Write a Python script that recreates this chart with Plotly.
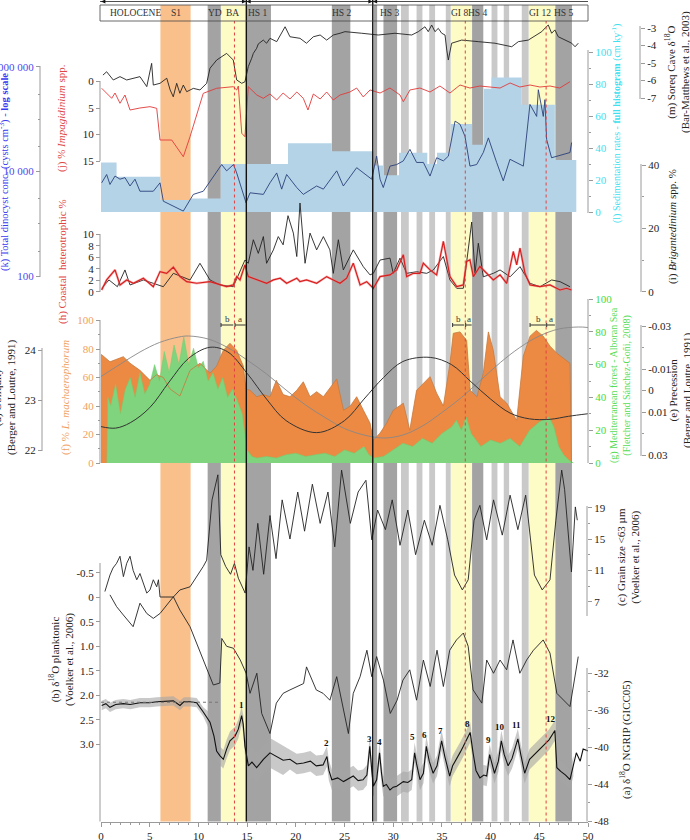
import plotly.graph_objects as go

# ---------------- DATA (ages in ka BP) ----------------
s1_band = (6.1, 9.2)
dark_bands = [(10.95, 12.3), (14.95, 17.45), (23.7, 25.6), (28.0, 28.35), (29.0, 30.4), (38.1, 39.25), (46.65, 48.35)]
light_bands = [(30.8, 31.6), (32.4, 33.0), (33.7, 34.3), (35.4, 35.9), (40.1, 40.7), (41.35, 41.9), (43.2, 43.9)]
yellow_bands = [(12.3, 14.9), (35.9, 38.1), (43.9, 46.6)]
red_dotted = [13.7, 37.4, 45.7]
black_lines = [14.92, 27.9]
header_names = ["HOLOCENE", "S1", "YD", "BA", "HS 1", "HS 2", "HS 3", "GI 8", "HS 4", "GI 12", "HS 5"]
header_pos = [3.5, 7.7, 11.7, 13.55, 16.1, 24.7, 29.7, 36.85, 38.75, 45.1, 47.5]
mis_names = ["MIS 1", "MIS 2", "MIS 3"]
mis_pos = [7.5, 21.5, 38.7]

# (m) Soreq Cave d18O
soreq_age = [0.2, 0.58, 1.26, 1.95, 2.64, 3.3, 4.0, 4.7, 5.03, 5.2, 5.37, 6.06, 6.75, 7.1, 7.42, 7.77, 8.1, 8.45, 8.8, 9.48,
             10.16, 10.85, 11.19, 11.88, 12.9, 13.58, 13.93, 14.45, 14.78, 15.12, 15.47, 15.64, 15.98, 16.15, 16.66, 17.0,
             17.35, 18.04, 18.9, 19.4, 20.43, 21.1, 21.8, 22.5, 23.17, 23.85, 24.54, 25.05, 26.77, 28.47, 30.18, 31.9,
             32.58, 33.26, 33.6, 33.95, 34.29, 34.63, 34.98, 35.32, 35.5, 35.66, 36.0, 37.03, 38.74, 40.45, 42.17, 42.85,
             43.87, 45.25, 45.6, 45.92, 46.27, 46.6, 46.95, 47.64, 48.33, 48.67, 49.0]
soreq_val = [-5.69, -5.5, -5.97, -5.78, -5.97, -5.87, -5.78, -6.35, -5.4, -5.02, -6.26, -6.16, -5.87, -6.54, -6.93, -6.16,
             -6.73, -6.26, -6.64, -6.45, -6.54, -6.16, -5.3, -4.83, -4.45, -4.83, -5.97, -6.16, -6.07, -5.21, -4.73, -4.45,
             -4.16, -3.91, -3.69, -3.87, -3.59, -3.78, -2.93, -3.5, -3.59, -3.87, -3.5, -3.4, -3.69, -3.4, -3.3, -3.21,
             -3.3, -3.4, -3.3, -3.4, -3.21, -2.93, -3.21, -2.83, -3.21, -3.02, -3.3, -3.4, -4.26, -4.83, -3.87, -3.69,
             -3.78, -3.87, -4.07, -3.78, -3.69, -3.21, -3.0, -2.83, -3.3, -3.11, -3.5, -3.69, -3.87, -4.07, -3.87]

# (j) % Impagidinium spp.
impa_age = [0.07, 1.1, 1.44, 1.95, 2.46, 2.98, 4.0, 5.03, 5.72, 6.06, 7.26, 8.45, 9.14, 10.5, 11.88, 12.9, 13.58, 13.93,
            14.1, 14.45, 14.78, 15.12, 16.0, 16.66, 17.35, 18.04, 18.7, 19.4, 20.1, 20.77, 21.25, 21.8, 22.5, 23.17,
            23.85, 24.54, 25.56, 26.25, 26.93, 27.62, 28.65, 29.67, 30.7, 31.04, 31.72, 32.75, 33.78, 34.8, 35.83,
            36.86, 37.88, 38.9, 39.94, 40.97, 42.0, 43.0, 44.05, 45.07, 46.1, 47.1, 48.15]
impa_val = [1.28, 3.17, 2.17, 4.11, 2.55, 5.38, 5.0, 4.75, 5.06, 11.04, 11.04, 14.19, 10.42, 2.23, 1.28, 1.04, 0.98, 1.6,
            0.85, 9.77, 10.42, 0.98, 2.55, 3.17, 2.36, 3.49, 2.17, 3.3, 1.98, 3.17, 5.38, 2.36, 3.3, 1.98, 3.49, 2.55,
            1.98, 1.23, 2.92, 1.6, 2.17, 1.23, 2.55, 3.81, 1.6, 1.23, 1.98, 0.85, 2.17, 0.66, 1.23, 0.85, 1.04, 1.23,
            0.28, 1.04, 0.66, 1.04, 0.85, 1.23, 0.04]

# (l) sedimentation rates - full histogram
sed_edges = [0, 1.6, 6.1, 9.2, 12.3, 14.9, 19.2, 23.7, 28.0, 29.0, 30.6, 33.5, 34.5, 35.9, 38.1, 39.3, 40.1, 43.2, 46.6, 48.8]
sed_rate = [31, 22, 7.5, 8.5, 30, 30, 43, 38, 29, 23, 37, 30, 37, 55, 42, 77, 84, 67, 32.5]

# (k) total dinocyst concentration (cysts cm-3)
dino_age = [0.07, 0.58, 0.92, 1.44, 1.95, 2.46, 2.98, 3.49, 4.0, 5.37, 6.06, 6.4, 8.45, 9.48, 10.5, 11.53, 12.39, 12.9,
            13.6, 13.93, 14.89, 15.3, 16.67, 17.35, 18.04, 18.55, 19.06, 20.1, 20.77, 22.14, 22.83, 24.2, 24.88, 26.25,
            26.93, 27.79, 28.3, 28.65, 28.98, 29.67, 30.36, 31.04, 31.72, 32.4, 33.1, 33.78, 34.46, 35.15, 35.66, 36.35,
            36.86, 37.37, 37.88, 38.57, 39.25, 39.77, 40.62, 41.3, 41.99, 42.67, 43.36, 44.04, 44.73, 44.9, 45.41,
            45.58, 45.75, 46.26, 48.15, 48.32]
dino_val = [6030, 8710, 5620, 8130, 7080, 7590, 5250, 7080, 4170, 4170, 6030, 2690, 1740, 3630, 4170, 8130, 13490, 10230,
            13490, 9330, 2510, 3890, 3630, 6030, 9330, 4570, 8710, 4900, 3630, 5250, 4570, 10230, 5250, 11750, 9330,
            7080, 19500, 7080, 4900, 12590, 13490, 15850, 26300, 14800, 14800, 8130, 18200, 15850, 19500, 91200, 79400,
            46800, 12590, 13490, 22900, 43600, 14800, 6600, 17000, 14800, 12590, 190500, 112200, 363000, 112200,
            234400, 40700, 18200, 22900, 35500]

# (i) Brigantedinium spp. %
brig_age = [0.07, 0.82, 1.68, 2.46, 2.98, 4.35, 5.37, 6.4, 7.43, 9.14, 10.16, 11.19, 12.22, 13.58, 14.78, 15.12, 15.64,
            16.15, 16.67, 17.0, 17.7, 18.2, 18.7, 19.2, 19.75, 20.1, 20.43, 20.95, 21.46, 22.14, 22.83, 23.5, 23.85,
            24.37, 24.88, 25.9, 26.93, 27.62, 27.96, 28.65, 29.67, 30.0, 30.7, 31.38, 32.4, 33.44, 34.12, 35.15, 35.83,
            36.52, 37.2, 37.54, 38.06, 38.4, 38.74, 39.25, 40.28, 40.97, 42.0, 43.02, 44.05, 45.07, 46.27, 47.13, 48.15]
brig_val = [1.07, 3.7, 1.58, 6.87, 2.12, 3.7, 2.64, 1.58, 5.8, 3.7, 8.97, 3.7, 2.12, 1.58, 10.0, 8.97, 16.4, 12.1, 17.4,
            8.97, 13.2, 17.4, 14.8, 24.0, 18.5, 11.1, 28.0, 8.97, 18.5, 13.2, 17.4, 13.2, 5.8, 16.4, 6.87, 13.2, 7.9,
            5.3, 5.8, 10.0, 10.6, 5.8, 10.6, 5.8, 6.3, 5.8, 6.87, 11.1, 3.7, 1.07, 1.07, 8.97, 22.0, 5.8, 15.3, 4.7,
            5.8, 6.87, 4.7, 7.9, 2.64, 1.58, 3.7, 3.17, 1.58]

# (h) coastal heterotrophic %
coast_age = [0.07, 0.58, 1.44, 1.95, 2.64, 3.32, 4.35, 5.37, 6.06, 6.74, 7.43, 8.11, 8.8, 9.82, 11.19, 12.22, 12.9, 13.58,
             13.93, 14.27, 14.78, 15.12, 15.98, 17.0, 17.7, 18.4, 19.06, 20.1, 20.43, 21.1, 22.14, 23.17, 23.85, 24.54,
             25.22, 25.9, 26.6, 27.28, 27.96, 28.65, 29.67, 30.36, 31.04, 31.38, 32.07, 32.75, 33.09, 33.78, 34.46,
             35.15, 35.83, 36.52, 37.2, 37.54, 37.88, 38.23, 38.9, 39.6, 40.28, 40.97, 41.65, 42.33, 42.68, 43.02,
             43.53, 44.05, 45.07, 46.1, 47.13, 47.8, 48.3]
coast_val = [0.3, 2.05, 3.8, 1.18, 2.05, 1.47, 2.35, 0.88, 3.5, 3.2, 4.28, 2.63, 1.75, 1.47, 1.75, 1.18, 0.88, 1.18, 2.63,
             2.05, 4.68, 2.63, 2.05, 1.47, 2.05, 2.35, 1.47, 2.35, 1.75, 2.05, 1.47, 2.63, 2.05, 1.47, 2.35, 4.97, 1.18,
             1.75, 0.6, 2.63, 2.93, 3.8, 6.43, 2.63, 3.2, 3.2, 4.97, 3.8, 2.93, 8.77, 2.63, 0.88, 1.18, 5.26, 5.56, 2.63,
             4.39, 3.2, 2.05, 2.93, 1.47, 7.0, 4.68, 7.6, 3.2, 1.18, 0.88, 1.18, 0.3, 0.6, 0.3]

# (f) % L. machaerophorum
lmac_age = [0.0, 0.07, 0.92, 1.61, 2.29, 2.98, 4.0, 5.03, 5.71, 6.4, 7.08, 8.1, 9.14, 10.16, 11.19, 11.87, 12.56, 13.24,
            13.93, 14.61, 14.89, 15.3, 15.98, 16.67, 17.35, 18.0, 18.7, 19.4, 20.1, 20.77, 21.46, 22.14, 22.83, 24.2,
            24.9, 25.6, 26.25, 26.94, 27.62, 27.96, 28.65, 29.33, 30.0, 31.04, 31.7, 32.4, 33.1, 33.78, 34.46, 35.15,
            35.83, 36.17, 36.86, 37.54, 37.9, 38.6, 39.25, 39.77, 40.28, 40.97, 41.65, 42.68, 43.36, 44.05, 44.7, 45.4,
            46.1, 46.8, 48.15, 48.3]
lmac_val = [76, 76, 71, 73, 74.6, 70, 65, 58, 62, 60, 52, 47, 65, 70, 63, 68, 79, 84, 79, 68, 52, 51, 46.5, 48, 46.5, 58,
            48, 46.5, 51, 57, 46.5, 50, 46.5, 59, 37, 40, 46.5, 37, 28, 16, 21, 28, 37, 42, 23, 51, 56, 60.6, 49, 40, 70,
            91, 92, 86, 51, 46.5, 63, 92, 79, 46.5, 42, 30, 75, 89, 93, 89, 82, 77, 70, 0]

# (g) Mediterranean forest %
forest_age = [0.6, 0.7, 1.0, 1.5, 2.0, 2.5, 3.0, 3.5, 4.0, 4.5, 5.0, 5.5, 6.0, 6.5, 7.0, 7.5, 8.0, 8.5, 9.0, 9.5, 10.0,
              10.5, 11.0, 11.5, 12.0, 12.5, 13.0, 13.5, 14.0, 14.5, 15.0, 15.5, 16.0, 17.0, 18.0, 19.0, 20.0, 21.0,
              22.0, 23.0, 24.0, 25.0, 26.0, 27.0, 27.5, 28.0, 29.0, 30.0, 31.0, 32.0, 33.0, 34.0, 35.0, 36.0, 36.5,
              37.0, 37.5, 38.0, 39.0, 40.0, 41.0, 42.0, 43.0, 44.0, 45.0, 46.0, 46.5, 47.0, 47.5, 48.0, 48.5]
forest_val = [0, 40, 35, 48, 30, 45, 52, 40, 55, 42, 48, 60, 50, 68, 55, 72, 60, 77, 60, 70, 58, 62, 50, 55, 45, 52, 40,
              45, 38, 30, 8, 4, 3, 4, 3, 5, 6, 4, 5, 6, 4, 8, 6, 10, 5, 3, 4, 8, 12, 10, 15, 12, 18, 22, 26, 20, 28, 18,
              10, 14, 12, 15, 10, 20, 25, 28, 22, 10, 5, 2, 0]

# (d) obliquity (deg) and (e) precession
obl_age = [0, 2, 4, 6, 8, 9, 11, 13, 15, 17, 19, 21, 23, 25, 27, 29, 31, 33, 35, 37, 39, 41, 43, 45, 47, 49, 50]
obl_val = [23.47, 23.72, 23.96, 24.15, 24.26, 24.28, 24.22, 24.05, 23.8, 23.52, 23.2, 22.9, 22.65, 22.43, 22.3, 22.24,
           22.3, 22.48, 22.75, 23.05, 23.4, 23.75, 24.05, 24.28, 24.42, 24.46, 24.45]
prec_age = [0, 1.5, 3, 5, 7, 9, 11.2, 13, 15, 17, 19, 22.15, 25, 27, 29, 31, 33.8, 36, 38, 40, 42, 44, 46.1, 48, 50]
prec_val = [0.0168, 0.0175, 0.015, 0.008, -0.004, -0.015, -0.0201, -0.018, -0.008, 0.004, 0.014, 0.0196, 0.014, 0.004,
            -0.006, -0.0135, -0.0154, -0.012, -0.004, 0.004, 0.0105, 0.0132, 0.0134, 0.012, 0.0108]

# (c) grain size < 63 um
grain_age = [0.4, 0.92, 1.23, 1.6, 1.95, 2.3, 2.64, 2.98, 3.3, 3.67, 4.0, 4.35, 4.7, 5.03, 5.37, 5.72, 5.9, 6.06, 7.43,
             8.1, 9.14, 10.5, 10.85, 11.4, 12.0, 12.3, 12.8, 13.3, 13.7, 14.1, 14.8, 15.2, 15.6, 16.1, 16.7, 17.35,
             17.97, 18.6, 19.4, 20.2, 20.9, 21.7, 22.5, 23.3, 24.0, 24.7, 25.6, 26.4, 27.2, 27.8, 28.4, 29.2, 29.9,
             30.7, 31.5, 32.3, 33.2, 34.0, 34.8, 35.6, 36.3, 37.1, 37.7, 38.3, 38.9, 39.6, 40.3, 41.2, 42.0, 42.8, 43.6,
             44.5, 45.3, 46.1, 46.7, 47.3, 47.6, 48.3, 48.7, 48.9]
grain_val = [8.3, 10.4, 11.3, 11.9, 12.8, 10.2, 11.9, 12.8, 11.0, 9.8, 10.6, 9.4, 8.1, 8.5, 9.8, 8.9, 9.8, 7.6, 7.6, 8.5,
             8.9, 11.5, 12.3, 20.0, 23.2, 13.0, 11.5, 10.5, 11.9, 10.0, 8.1, 14.0, 11.0, 17.0, 10.5, 18.0, 12.5, 20.0,
             15.0, 21.0, 16.0, 22.0, 17.0, 21.0, 14.0, 23.8, 17.0, 21.0, 22.5, 14.9, 18.7, 16.2, 20.0, 14.2, 18.7,
             13.0, 17.4, 14.2, 19.3, 14.9, 10.4, 8.5, 9.8, 17.4, 19.3, 14.9, 20.0, 15.5, 20.6, 16.2, 20.6, 10.4, 8.5,
             9.8, 17.4, 23.8, 21.3, 10.8, 19.1, 17.4]

# (b) planktonic d18O
plank_age = [0.92, 1.6, 2.29, 3.3, 4.0, 4.7, 5.37, 6.06, 7.43, 8.1, 9.14, 10.5, 11.53, 12.2, 12.4, 12.9, 13.6, 14.3, 14.9,
             15.3, 16.0, 16.5, 17.35, 18.0, 18.7, 19.4, 20.8, 21.1, 22.1, 22.8, 23.5, 24.2, 24.9, 25.4, 25.9, 26.6,
             27.3, 27.8, 28.3, 29.0, 29.7, 30.4, 31.0, 31.7, 32.4, 33.1, 33.8, 34.5, 35.15, 35.8, 36.5, 37.2, 37.7,
             38.2, 39.1, 39.6, 40.3, 40.97, 41.65, 42.3, 43.0, 43.7, 44.4, 45.4, 46.1, 46.8, 48.15, 49.0]
plank_val = [-0.05, 0.19, 0.36, 0.6, 0.12, 0.33, 0.43, 0.33, -0.01, 0.26, 0.6, 1.28, 1.79, 1.75, 0.84, 1.0, 1.04, 1.28,
             1.55, 1.96, 1.55, 2.37, 2.78, 2.16, 1.96, 1.89, 1.76, 1.42, 1.89, 1.96, 2.1, 1.62, 2.3, 2.78, 1.96, 1.62,
             1.08, 1.62, 1.21, 1.69, 2.37, 2.1, 1.69, 1.48, 2.1, 1.28, 1.82, 1.08, 1.82, 1.08, 0.87, 0.73, 1.0, 1.89,
             2.16, 1.28, 1.55, 1.28, 1.48, 0.87, 1.55, 1.28, 1.08, 0.87, 1.14, 1.96, 2.23, 1.21]

# (a) NGRIP d18O (GICC05) and envelope half-width of the raw data
ngrip_age = [0.07, 0.5, 0.92, 1.5, 2.29, 3.0, 4.0, 5.0, 5.71, 6.5, 7.43, 8.11, 8.5, 9.14, 9.82, 10.5, 11.19, 11.6, 11.87,
             12.2, 12.56, 12.9, 13.24, 13.76, 14.1, 14.44, 14.6, 14.78, 15.13, 15.5, 15.98, 16.3, 16.67, 17.35, 18.0,
             18.7, 19.4, 20.1, 20.8, 21.5, 22.1, 22.8, 23.2, 23.4, 23.7, 24.3, 24.9, 25.4, 25.9, 26.4, 26.9, 27.3, 27.6,
             27.8, 27.96, 28.3, 28.6, 28.8, 28.98, 29.3, 29.67, 30.0, 30.36, 31.04, 31.5, 31.9, 32.2, 32.4, 32.75, 33.1,
             33.4, 33.7, 34.1, 34.5, 34.97, 35.3, 35.8, 36.1, 36.5, 36.9, 37.2, 37.6, 37.9, 38.2, 38.5, 38.9, 39.3,
             39.6, 39.9, 40.1, 40.4, 40.8, 41.1, 41.4, 41.8, 42.2, 42.8, 43.1, 43.5, 44.0, 44.5, 45.0, 45.4, 46.0,
             46.6, 46.8, 47.2, 47.7, 48.15, 48.5, 48.8, 49.2, 49.5, 50.0]
ngrip_val = [-35.5, -35.3, -35.7, -35.4, -35.3, -35.4, -35.2, -35.2, -35.1, -35.05, -35.0, -35.5, -35.1, -35.1, -35.2,
             -36.2, -37.3, -38.8, -40.4, -40.9, -41.3, -40.2, -39.3, -38.8, -38.05, -36.6, -37.5, -39.9, -42.0, -41.6,
             -42.2, -41.8, -41.3, -40.6, -41.0, -41.4, -41.3, -41.8, -41.7, -41.5, -42.0, -41.9, -41.0, -42.5, -43.5,
             -43.3, -43.7, -43.4, -43.1, -43.6, -43.5, -43.0, -39.9, -42.5, -44.2, -43.5, -40.6, -42.8, -44.2, -44.0,
             -44.6, -44.3, -44.2, -43.7, -43.8, -43.5, -40.6, -41.8, -43.5, -42.8, -39.9, -41.5, -42.8, -42.0, -39.3,
             -41.0, -43.1, -42.0, -41.3, -40.5, -39.9, -39.0, -38.4, -40.6, -42.5, -43.3, -43.0, -43.1, -40.8, -41.6,
             -42.8, -41.5, -39.3, -40.8, -42.0, -41.2, -39.1, -40.8, -42.8, -41.3, -40.8, -40.2, -39.9, -39.2, -38.2,
             -42.2, -42.6, -43.0, -43.5, -42.0, -40.6, -41.5, -40.2, -40.4]
ngrip_spread = [0.5] * 16 + [1.0] * 12 + [1.6] * 8 + [1.1] * 74
holocene_mean = -35.15
gi_labels = ["1", "2", "3", "4", "5", "6", "7", "8", "9", "10", "11", "12"]
gi_age = [14.4, 23.2, 27.6, 28.6, 32.0, 33.2, 34.9, 37.65, 39.8, 41.0, 42.7, 46.2]
gi_lab_val = [-35.45, -39.5, -39.1, -39.4, -38.9, -38.7, -38.2, -37.5, -39.25, -37.8, -37.6, -37.0]
ab_marks = [("b", 12.32, 13.58), ("a", 13.76, 14.86), ("b", 36.1, 37.3), ("a", 37.44, 38.06), ("b", 44.05, 45.7),
            ("a", 45.76, 46.6)]

# ---------------- LAYOUT HELPERS ----------------
W, H = 690, 840
BOT, TOP = 821.5, 20.0
XL, XR = 101.0, 588.0
FONT = "Liberation Serif"
AX = "#9a9a9a"


def fy(py):
    return 1 - py / H


def fx(px):
    return px / W


def rng(v1, p1, v2, p2):
    s = (v2 - v1) / (p2 - p1)
    return [v1 + (BOT - p1) * s, v1 + (TOP - p1) * s]


def val_at(v1, p1, v2, p2, py):
    return v1 + (py - p1) * (v2 - v1) / (p2 - p1)


def yaxis(r, side, px, tv=None, tt=None, color="#222", minor=None, typ="linear", base=False):
    d = dict(anchor="free", position=fx(px), side=side, range=r, showgrid=False, zeroline=False,
             showline=False, type=typ, fixedrange=True, automargin=False)
    if tv is None:
        d.update(showticklabels=False, ticks="")
    else:
        d.update(ticks="outside", ticklen=4, tickcolor=AX, tickvals=tv, ticktext=tt,
                 tickfont=dict(family=FONT, size=11, color=color))
    if minor is not None:
        d["minor"] = dict(tickvals=minor, ticks="outside", ticklen=2, tickcolor=AX)
    if base:
        d["domain"] = [fy(BOT), fy(TOP)]
    else:
        d["overlaying"] = "y"
    return d


fig = go.Figure()

# base: (l) sedimentation histogram
fig.add_trace(go.Scatter(x=sed_edges, y=sed_rate + [sed_rate[-1]], yaxis="y", mode="lines", line_shape="hv",
                         line=dict(width=0, color="#b5d3e7"), fill="tozeroy", fillcolor="#b5d3e7", hoverinfo="skip"))
# MIS labels above the figure top (clipped by the page edge)
mis_y = val_at(0, 212, 100, 52, -4.5)
fig.add_trace(go.Scatter(x=mis_pos, y=[mis_y] * len(mis_pos), yaxis="y", mode="text", text=mis_names,
                         textfont=dict(family=FONT, size=10, color="#333"), cliponaxis=False))
# (f) orange fill
fig.add_trace(go.Scatter(x=lmac_age, y=lmac_val, yaxis="y2", mode="lines", line=dict(width=0, color="#ec8a44"),
                         fill="tozeroy", fillcolor="#ec8a44"))
# (g) green fill
fig.add_trace(go.Scatter(x=forest_age, y=forest_val, yaxis="y3", mode="lines", line=dict(width=0.5, color="#6fcf6f"),
                         fill="tozeroy", fillcolor="#7fd47d"))
# (f) line on top
fig.add_trace(go.Scatter(x=lmac_age, y=lmac_val, yaxis="y4", mode="lines", line=dict(width=0.8, color="#c77a3e")))
# (d) obliquity
fig.add_trace(go.Scatter(x=obl_age, y=obl_val, yaxis="y5", mode="lines", line=dict(width=0.9, color="#888888", shape="spline")))
# (e) precession
fig.add_trace(go.Scatter(x=prec_age, y=prec_val, yaxis="y6", mode="lines", line=dict(width=1.0, color="#333333", shape="spline")))
# (k) dinocyst conc
fig.add_trace(go.Scatter(x=dino_age, y=dino_val, yaxis="y7", mode="lines", line=dict(width=0.9, color="#2a3f7a")))
# (j) Impagidinium
fig.add_trace(go.Scatter(x=impa_age, y=impa_val, yaxis="y8", mode="lines", line=dict(width=0.9, color="#e23a3a")))
# (m) Soreq
fig.add_trace(go.Scatter(x=soreq_age, y=soreq_val, yaxis="y9", mode="lines", line=dict(width=0.9, color="#222222")))
# (i) Brigantedinium
fig.add_trace(go.Scatter(x=brig_age, y=brig_val, yaxis="y10", mode="lines", line=dict(width=0.9, color="#222222")))
# (h) coastal heterotrophic
fig.add_trace(go.Scatter(x=coast_age, y=coast_val, yaxis="y11", mode="lines", line=dict(width=2.4, color="rgba(240,120,120,0.5)")))
fig.add_trace(go.Scatter(x=coast_age, y=coast_val, yaxis="y11", mode="lines", line=dict(width=1.2, color="#d81e1e")))
# (c) grain size
fig.add_trace(go.Scatter(x=grain_age, y=grain_val, yaxis="y12", mode="lines", line=dict(width=0.9, color="#222222")))
# (b) planktonic
fig.add_trace(go.Scatter(x=plank_age, y=plank_val, yaxis="y13", mode="lines", line=dict(width=0.9, color="#222222")))
# (a) NGRIP envelope + line
lo = [v - s for v, s in zip(ngrip_val, ngrip_spread)]
hi = [v + s for v, s in zip(ngrip_val, ngrip_spread)]
fig.add_trace(go.Scatter(x=ngrip_age, y=lo, yaxis="y14", mode="lines", line=dict(width=0, color="#bbbbbb")))
fig.add_trace(go.Scatter(x=ngrip_age, y=hi, yaxis="y14", mode="lines", line=dict(width=0, color="#bbbbbb"),
                         fill="tonexty", fillcolor="rgba(165,165,165,0.6)"))
fig.add_trace(go.Scatter(x=ngrip_age, y=ngrip_val, yaxis="y14", mode="lines", line=dict(width=1.1, color="#111111")))
fig.add_trace(go.Scatter(x=[0, 12.2], y=[holocene_mean, holocene_mean], yaxis="y14", mode="lines",
                         line=dict(width=1, color="#777777", dash="dot")))

layout = dict(
    width=W, height=H, margin=dict(l=0, r=0, t=0, b=0, autoexpand=False), paper_bgcolor="white",
    plot_bgcolor="white", showlegend=False, hovermode=False,
    xaxis=dict(domain=[fx(XL), fx(XR)], range=[0, 50], anchor="y", showgrid=False, zeroline=False,
               showline=True, linecolor=AX, ticks="outside", ticklen=4, tickcolor=AX, automargin=False,
               tickvals=list(range(0, 51, 5)), tickfont=dict(family=FONT, size=11, color="#222"),
               minor=dict(dtick=1, ticks="outside", ticklen=2, tickcolor=AX), fixedrange=True),
    yaxis=yaxis(rng(0, 212, 100, 52), "right", XR, [0, 20, 40, 60, 80, 100], None, "#3fe0ef",
                minor=[10, 30, 50, 70, 90], base=True),
    yaxis2=yaxis(rng(0, 463, 100, 320.5), "left", 100, [0, 20, 40, 60, 80, 100], None, "#f0a060",
                 minor=[10, 30, 50, 70, 90]),
    yaxis3=yaxis(rng(0, 463, 100, 299), "right", XR, [0, 20, 40, 60, 80, 100], None, "#44dd44",
                 minor=[10, 30, 50, 70, 90]),
    yaxis4=yaxis(rng(0, 463, 100, 320.5), "left", 100),
    yaxis5=yaxis(rng(24, 350, 22, 450), "left", 42, [22, 23, 24], ["22", "23", "24"]),
    yaxis6=yaxis(rng(-0.03, 326, 0.03, 455), "right", 641, [-0.03, -0.01, 0, 0.01, 0.03],
                 ["-0.03", "-0.01", "0", "0.01", "0.03"], minor=[-0.02, 0.02]),
    yaxis7=yaxis(rng(2, 276, 6, 66.7), "left", 40, [100, 10000, 1000000], ["100", "10 000", "1 000 000"],
                 "#4a4af0", typ="log", minor=[1000, 100000, 300, 3000, 30000, 300000]),
    yaxis8=yaxis(rng(0, 81.5, 15, 161), "left", 100, [0, 5, 10, 15], ["0", "5", "10", "15"]),
    yaxis9=yaxis(rng(-3, 28, -7, 98), "right", 640, [-3, -4, -5, -6, -7], ["-3", "-4", "-5", "-6", "-7"]),
    yaxis10=yaxis(rng(0, 291.7, 40, 165), "right", 641, [0, 20, 40], ["0", "20", "40"], minor=[10, 30]),
    yaxis11=yaxis(rng(0, 291.7, 10, 234.3), "left", 100, [0, 2, 4, 6, 8, 10], ["0", "2", "4", "6", "8", "10"]),
    yaxis12=yaxis(rng(19, 507.7, 7, 601.7), "right", 587, [7, 11, 15, 19], ["7", "11", "15", "19"],
                  minor=[9, 13, 17]),
    yaxis13=yaxis(rng(0, 597.3, 3, 744.3), "left", 100, [-0.5, 0, 0.5, 1, 1.5, 2, 2.5, 3],
                  ["-0.5", "0", "0.5", "1.0", "1.5", "2.0", "2.5", "3.0"]),
    yaxis14=yaxis(rng(-48, 821.5, -32, 673), "right", 587, [-48, -44, -40, -36, -32],
                  ["-48", "-44", "-40", "-36", "-32"], minor=[-46, -42, -38, -34]),
)
fig.update_layout(**layout)

shapes = []
yb, yt = fy(BOT), fy(5)


def band(a, b, color, y1=yt):
    shapes.append(dict(type="rect", xref="x", yref="paper", x0=a, x1=b, y0=yb, y1=y1, fillcolor=color,
                       line=dict(width=0), layer="below"))


band(*s1_band, "#f9c08c")
for a, b in yellow_bands:
    band(a, b, "#fdfbc6")
for a, b in dark_bands:
    band(a, b, "#a3a3a3")
for a, b in light_bands:
    band(a, b, "#c9c9c9")
for x in red_dotted:
    shapes.append(dict(type="line", xref="x", yref="paper", x0=x, x1=x, y0=yb, y1=fy(21),
                       line=dict(color="#e04040", width=1, dash="dot"), layer="above"))
for x in black_lines:
    shapes.append(dict(type="line", xref="x", yref="paper", x0=x, x1=x, y0=yb, y1=fy(0),
                       line=dict(color="#111", width=1.4), layer="above"))
# header box
shapes.append(dict(type="rect", xref="paper", yref="paper", x0=fx(100), x1=fx(588), y0=fy(21), y1=fy(5),
                   line=dict(color="#444", width=0.8), layer="above"))
# MIS arrow line
shapes.append(dict(type="line", xref="paper", yref="paper", x0=fx(100), x1=fx(588), y0=fy(1.5), y1=fy(1.5),
                   line=dict(color="#222", width=0.8)))
for x, d in [(0, -1), (14.92, 1), (14.92, -1), (27.9, 1), (27.9, -1)]:
    tip = x
    base = x - 0.45 * d
    if x == 0:
        tip, base = 0.0, 0.45
    shapes.append(dict(type="path", xref="x", yref="paper",
                       path=f"M {base},{fy(-0.5)} L {tip},{fy(1.5)} L {base},{fy(3.5)} Z",
                       fillcolor="#111", line=dict(width=0)))
# axis lines
for px, p0, p1, col in [(XR, 50, 213, AX), (XR, 299, 463, AX), (587, 506, 616, AX), (587, 668, BOT, AX),
                        (100, 320, 463, AX), (100, 81, 161, AX), (100, 234, 292, AX), (100, 563, BOT, AX),
                        (40, 66, 277, AX), (42, 348, 451, AX), (640, 26, 99, AX), (641, 164, 292, AX),
                        (641, 325, 456, AX)]:
    shapes.append(dict(type="line", xref="paper", yref="paper", x0=fx(px), x1=fx(px), y0=fy(p0), y1=fy(p1),
                       line=dict(color=col, width=1)))
# a/b sub-interval bars
for lab, a, b in ab_marks:
    shapes.append(dict(type="line", xref="x", yref="paper", x0=a, x1=b, y0=fy(325), y1=fy(325),
                       line=dict(color="#333", width=1)))
    shapes.append(dict(type="line", xref="x", yref="paper", x0=a, x1=a, y0=fy(323), y1=fy(327),
                       line=dict(color="#333", width=1)))

ann = []
for name, x in zip(header_names, header_pos):
    ann.append(dict(x=x, y=fy(13), xref="x", yref="paper", text=name, showarrow=False, yanchor="middle",
                    xanchor="center", font=dict(family=FONT, size=9.5, color="#333")))
for lab, a, b in ab_marks:
    ann.append(dict(x=(a + b) / 2, y=fy(319), xref="x", yref="paper", text=lab, showarrow=False, yanchor="middle",
                    xanchor="center", font=dict(family=FONT, size=9, color="#333")))
for lab, x, v in zip(gi_labels, gi_age, gi_lab_val):
    ann.append(dict(x=x, y=v, xref="x", yref="y14", text=f"<b>{lab}</b>", showarrow=False, yanchor="middle",
                    xanchor="center", font=dict(family=FONT, size=9, color="#111")))


def title(text, px, py, color="#222", size=11):
    ann.append(dict(x=fx(px), y=fy(py), xref="paper", yref="paper", text=text, textangle=-90, showarrow=False,
                    xanchor="center", yanchor="middle", font=dict(family=FONT, size=size, color=color)))


title("(k) Total dinocyst conc. (cysts cm<sup>-3</sup>) - <b>log scale</b>", 4, 172, "#3a3af0", 10.5)
title("(j) % <i>Impagidinium</i> spp.", 62, 118, "#e04545", 11)
title("(h) Coastal  heterotrophic %", 62, 262, "#e04545", 11)
title("(f) % <i>L. machaerophorum</i>", 65, 398, "#f0a060", 11)
title("(d) Obliquity<br>(Berger and Loutre, 1991)", 4, 397, "#222", 11)
title("(b) δ<sup>18</sup>O planktonic<br>(Voelker et al., 2006)", 61, 660, "#222", 11)
title("(m) Soreq Cave δ<sup>18</sup>O<br>(Bar-Matthews et al., 2003)", 677, 72, "#222", 11)
title("(l) Sedimentation rates - <b>full histogram</b> (cm ky<sup>-1</sup>)", 616, 124, "#3fe0ef", 10)
title("(i) <i>Brigantedinium</i> spp. %", 673, 227, "#222", 11)
title("(g) Mediterranean forest - Alboran Sea<br>(Fletcher and Sánchez-Goñi, 2008)", 621, 385, "#55dd55", 10)
title("(e) Precession<br>(Berger and Loutre, 1991)", 680, 390, "#222", 11)
title("(c) Grain size &lt;63 µm<br>(Voelker et al., 2006)", 628, 557, "#222", 11)
title("(a) δ<sup>18</sup>O NGRIP (GICC05)", 625, 740, "#222", 11)

fig.update_layout(shapes=shapes, annotations=ann)
fig.write_html("out.html")
